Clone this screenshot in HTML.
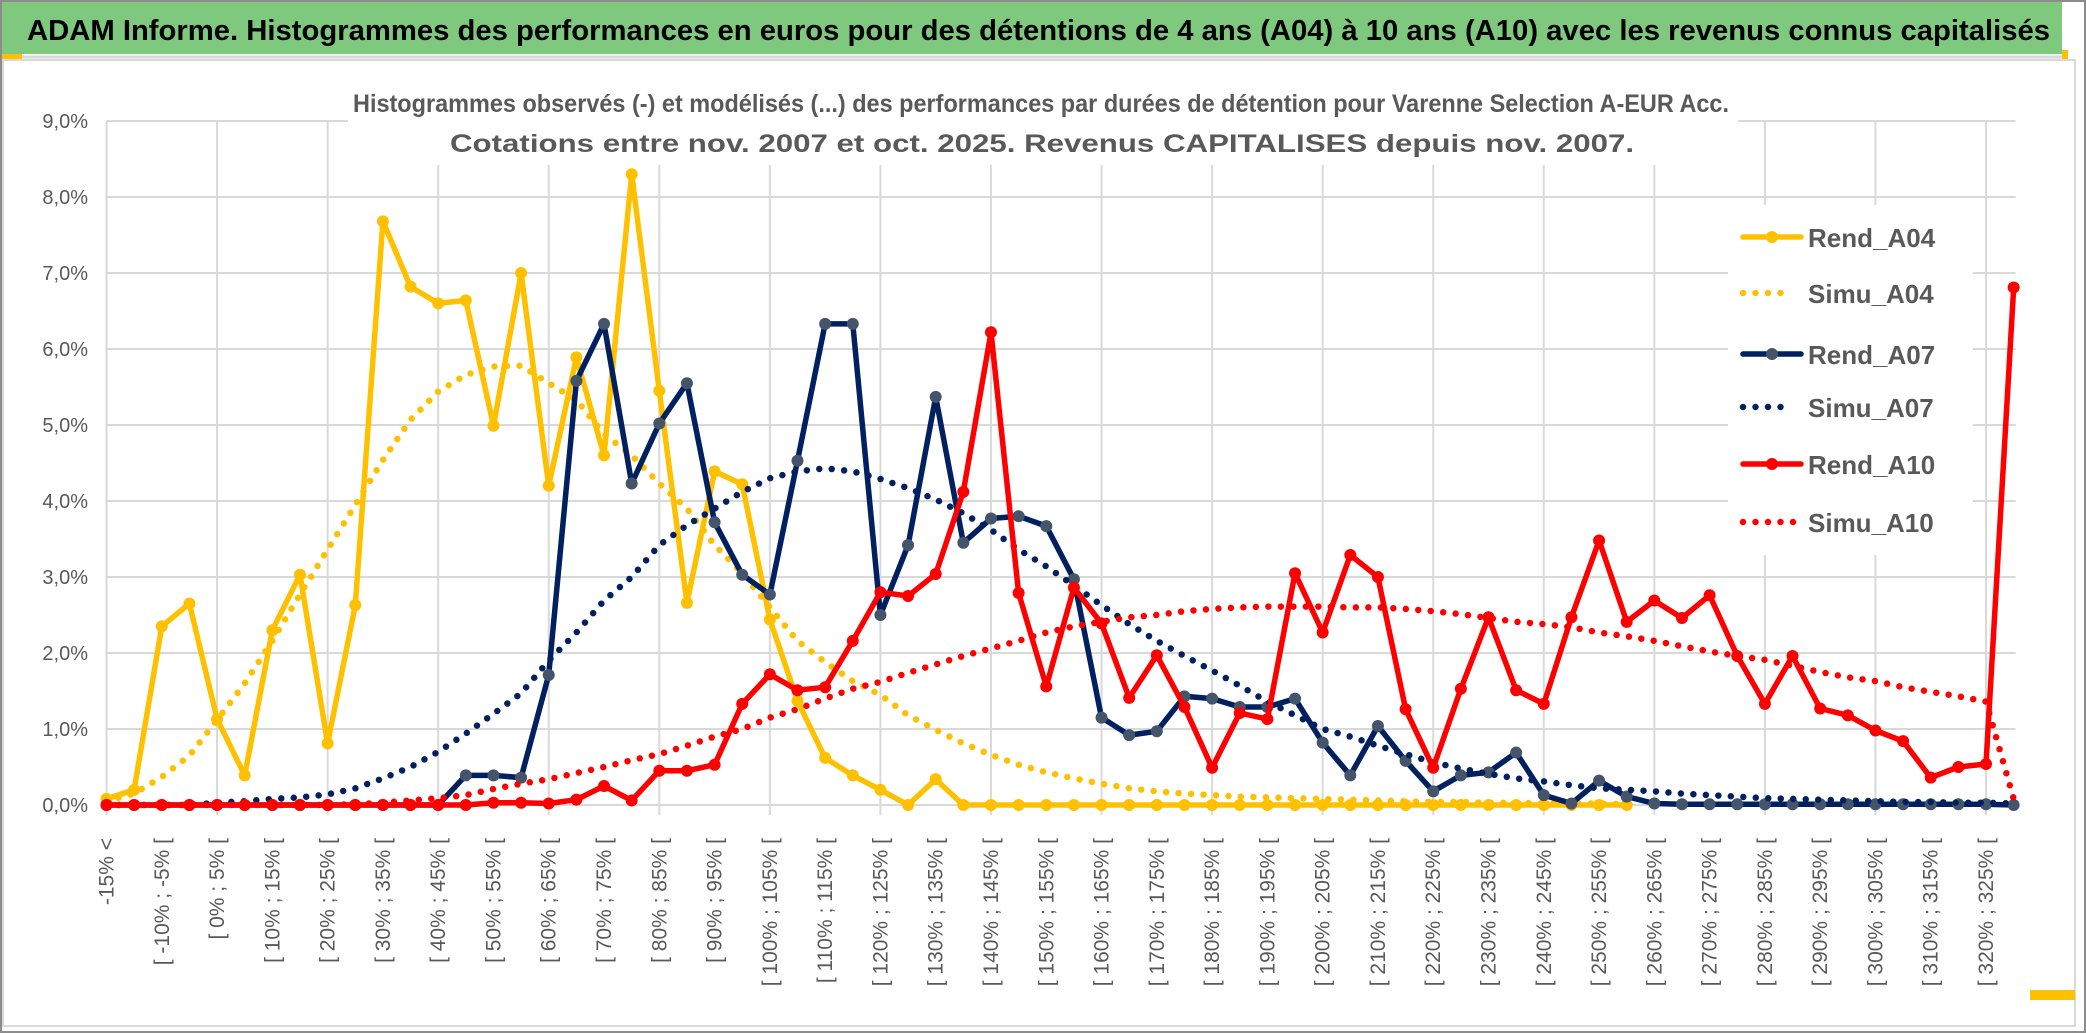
<!DOCTYPE html>
<html><head><meta charset="utf-8"><style>
html,body{margin:0;padding:0;background:#fff;}
svg{display:block;font-family:"Liberation Sans",sans-serif;}
</style></head><body>
<svg id="chart" width="2086" height="1033" viewBox="0 0 2086 1033" xmlns="http://www.w3.org/2000/svg">
<rect x="0" y="0" width="2086" height="1033" fill="#fff"/>
<rect x="1" y="1" width="2084" height="1031" fill="none" stroke="#8c8c8c" stroke-width="2"/>
<rect x="2" y="2" width="2060" height="52" fill="#7fc97f"/>
<rect x="2" y="54" width="20" height="5" fill="#ffc000"/>
<line x1="22" y1="57" x2="2062" y2="57" stroke="#d9d9d9" stroke-width="3"/>
<rect x="2062" y="50" width="6" height="10" fill="#ffc000"/>
<rect x="3" y="60" width="2072" height="966" fill="none" stroke="#d9d9d9" stroke-width="2"/>
<rect x="2030" y="990" width="45" height="10" fill="#ffc000"/>
<text x="27" y="40" font-size="29" font-weight="bold" fill="#000" textLength="2023" lengthAdjust="spacingAndGlyphs">ADAM Informe. Histogrammes des performances en euros pour des détentions de 4 ans (A04) à 10 ans (A10) avec les revenus connus capitalisés</text>
<g id="grid"></g>
<g id="yaxis"></g>
<g id="xaxis"></g>
<rect x="348" y="80" width="1390" height="85" fill="#fff"/>
<text x="1041" y="112" font-size="25" font-weight="bold" fill="#595959" text-anchor="middle" textLength="1376" lengthAdjust="spacingAndGlyphs">Histogrammes observés (-) et modélisés (...) des performances par durées de détention pour Varenne Selection A-EUR Acc.</text>
<text x="1042" y="152" font-size="25" font-weight="bold" fill="#595959" text-anchor="middle" textLength="1184" lengthAdjust="spacingAndGlyphs">Cotations entre nov. 2007 et oct. 2025. Revenus CAPITALISES depuis nov. 2007.</text>
<g id="series"></g>
<g id="legend"></g>
</svg>
<script>
const categories = ["-15% <","[ -15% ; -10% [","[ -10% ; -5% [","[ -5% ; 0% ["];
for (let a = 0; a <= 325; a += 5) categories.push("[ " + a + "% ; " + (a + 5) + "% [");
const rendA04 = [0.08,0.2,2.35,2.65,1.13,0.39,2.3,3.03,0.81,2.63,7.68,6.82,6.6,6.64,4.99,7.0,4.2,5.89,4.6,8.3,5.45,2.66,4.39,4.22,2.44,1.37,0.62,0.39,0.2,0,0.34,0,0,0,0,0,0,0,0,0,0,0,0,0,0,0,0,0,0,0,0,0,0,0,0,0,null,null,null,null,null,null,null,null,null,null,null,null,null,null];
const simuA04 = [0.05,0.15,0.37,0.65,1.12,1.6,2.16,2.77,3.36,3.95,4.54,5.07,5.44,5.66,5.77,5.78,5.55,5.33,4.88,4.6,4.23,3.9,3.42,3.05,2.6,2.16,1.88,1.63,1.45,1.18,0.99,0.81,0.66,0.53,0.43,0.35,0.28,0.22,0.18,0.15,0.13,0.11,0.1,0.09,0.08,0.07,0.06,0.05,0.04,0.04,0.03,0.03,0.02,0.02,0.02,0.01,null,null,null,null,null,null,null,null,null,null,null,null,null,null];
const rendA07 = [0,0,0,0,0,0,0,0,0,0,0,0,0,0.39,0.39,0.36,1.71,5.58,6.33,4.23,5.02,5.55,3.72,3.03,2.77,4.53,6.33,6.33,2.5,3.42,5.37,3.45,3.77,3.8,3.67,2.97,1.15,0.92,0.97,1.43,1.4,1.29,1.29,1.4,0.82,0.39,1.04,0.58,0.18,0.39,0.43,0.69,0.13,0.02,0.32,0.11,0.02,0.01,0.01,0.01,0.01,0.01,0.01,0.01,0.01,0.01,0.01,0.01,0.01,0];
const simuA07 = [0,0,0,0,0.03,0.05,0.08,0.1,0.14,0.22,0.35,0.5,0.7,0.94,1.2,1.47,1.9,2.27,2.69,3.0,3.42,3.68,3.9,4.12,4.3,4.39,4.43,4.39,4.29,4.17,4.02,3.84,3.62,3.36,3.14,2.89,2.63,2.38,2.16,1.96,1.77,1.57,1.36,1.18,1.0,0.9,0.78,0.67,0.56,0.48,0.41,0.35,0.31,0.26,0.22,0.2,0.18,0.15,0.13,0.11,0.09,0.08,0.07,0.06,0.05,0.04,0.04,0.03,0.03,0.02];
const rendA10 = [0,0,0,0,0,0,0,0,0,0,0,0,0,0,0.03,0.03,0.02,0.07,0.25,0.06,0.45,0.45,0.53,1.33,1.72,1.51,1.55,2.16,2.8,2.75,3.04,4.12,6.22,2.79,1.56,2.86,2.39,1.41,1.97,1.29,0.49,1.21,1.13,3.05,2.27,3.29,3.0,1.26,0.49,1.53,2.47,1.51,1.33,2.47,3.48,2.41,2.69,2.46,2.76,1.96,1.33,1.96,1.27,1.18,0.98,0.84,0.36,0.5,0.54,6.81];
const simuA10 = [0,0,0,0,0,0,0,0,0,0.01,0.03,0.06,0.09,0.13,0.21,0.28,0.34,0.42,0.5,0.59,0.67,0.78,0.9,1.0,1.15,1.26,1.4,1.53,1.62,1.74,1.85,1.96,2.06,2.16,2.27,2.35,2.41,2.47,2.5,2.55,2.58,2.6,2.61,2.61,2.61,2.6,2.6,2.58,2.55,2.51,2.46,2.41,2.38,2.34,2.27,2.22,2.16,2.09,2.02,1.96,1.91,1.83,1.75,1.68,1.63,1.55,1.49,1.43,1.36,0.08];
const yTicks = [0,1,2,3,4,5,6,7,8,9];
const yTickLabels = ["0,0%","1,0%","2,0%","3,0%","4,0%","5,0%","6,0%","7,0%","8,0%","9,0%"];

const NS = "http://www.w3.org/2000/svg";
const X0 = 106.5, STEP = 27.64, Y0 = 805, YPER = 76;
function xs(i){ return X0 + i * STEP; }
function ys(v){ return Y0 - v * YPER; }
function mk(tag, attrs, parent){ const e = document.createElementNS(NS, tag); for (const k in attrs) e.setAttribute(k, attrs[k]); parent.appendChild(e); return e; }

const grid = document.getElementById('grid');
const xEnd = xs(categories.length - 1) + 2;
yTicks.forEach(t => {
  const l = mk('line', {x1: X0, x2: xEnd, y1: ys(t), y2: ys(t), stroke: '#d9d9d9', 'stroke-width': 2}, grid);
  
  
});
for (let i = 0; i < categories.length; i += 4) {
  const l = mk('line', {x1: xs(i), x2: xs(i), y1: ys(9), y2: Y0 + 10, stroke: '#d9d9d9', 'stroke-width': 2}, grid);
  
  
}
const yaxis = document.getElementById('yaxis');
yTicks.forEach((t, k) => {
  const tx = mk('text', {x: 88, y: ys(t) + 7, 'font-size': 20, fill: '#595959', 'text-anchor': 'end'}, yaxis);
  tx.textContent = yTickLabels[k];
  
  
});
const xaxis = document.getElementById('xaxis');
categories.forEach((c, i) => {
  if (i % 2) return;
  const x = xs(i) + 7, y = 838;
  const tx = mk('text', {x: x, y: y, 'font-size': 21, fill: '#595959', 'text-anchor': 'end', transform: 'rotate(-90 ' + x + ' ' + y + ')'}, xaxis);
  tx.textContent = c;
  
  
});

const seriesLayer = document.getElementById('series');
function pathFor(arr){
  let d = '', pen = false;
  arr.forEach((v, i) => {
    if (v === null) { pen = false; return; }
    d += (pen ? 'L' : 'M') + xs(i).toFixed(1) + ' ' + ys(v).toFixed(1) + ' ';
    pen = true;
  });
  return d;
}
function drawRend(arr, color, mcolor, name){
  const g = mk('g', {}, seriesLayer);
  
  
  const p = mk('path', {d: pathFor(arr), fill: 'none', stroke: color, 'stroke-width': 5.5, 'stroke-linejoin': 'round'}, g);
  
  
  arr.forEach((v, i) => {
    if (v === null) return;
    const c = mk('circle', {cx: xs(i), cy: ys(v), r: 6, fill: mcolor}, g);
    
    
  });
}
function drawSimu(arr, color, name){
  const p = mk('path', {d: pathFor(arr), fill: 'none', stroke: color, 'stroke-width': 6.5, 'stroke-linecap': 'round', 'stroke-dasharray': '0 12.5'}, seriesLayer);
  
  
}
drawRend(rendA04, '#ffc000', '#ffc000', 'rend-a04');
drawSimu(simuA04, '#ffc000', 'simu-a04');
drawRend(rendA07, '#002060', '#44546a', 'rend-a07');
drawSimu(simuA07, '#002060', 'simu-a07');
drawRend(rendA10, '#ff0000', '#ff0000', 'rend-a10');
drawSimu(simuA10, '#ff0000', 'simu-a10');

const legend = document.getElementById('legend');
mk('rect', {x: 1728, y: 205, width: 245, height: 350, fill: '#fff'}, legend);
const items = [
  ['Rend_A04', '#ffc000', '#ffc000', false],
  ['Simu_A04', '#ffc000', null, true],
  ['Rend_A07', '#002060', '#44546a', false],
  ['Simu_A07', '#002060', null, true],
  ['Rend_A10', '#ff0000', '#ff0000', false],
  ['Simu_A10', '#ff0000', null, true]
];
const legY = [237, 293, 354, 407, 464, 522];
items.forEach((it, k) => {
  const g = mk('g', {}, legend);
  
  
  const y = legY[k];
  if (it[3]) {
    mk('line', {x1: 1743, x2: it[0] === 'Simu_A10' ? 1800 : 1790, y1: y, y2: y, stroke: it[1], 'stroke-width': 6.5, 'stroke-linecap': 'round', 'stroke-dasharray': '0 12.5'}, g);
  } else {
    mk('line', {x1: 1743, x2: 1801, y1: y, y2: y, stroke: it[1], 'stroke-width': 5.5, 'stroke-linecap': 'round'}, g);
    mk('circle', {cx: 1772, cy: y, r: 6, fill: it[2]}, g);
  }
  const t = mk('text', {x: 1808, y: y + 10, 'font-size': 26, 'font-weight': 'bold', fill: '#595959'}, g);
  t.textContent = it[0];
});
</script>
</body></html>
